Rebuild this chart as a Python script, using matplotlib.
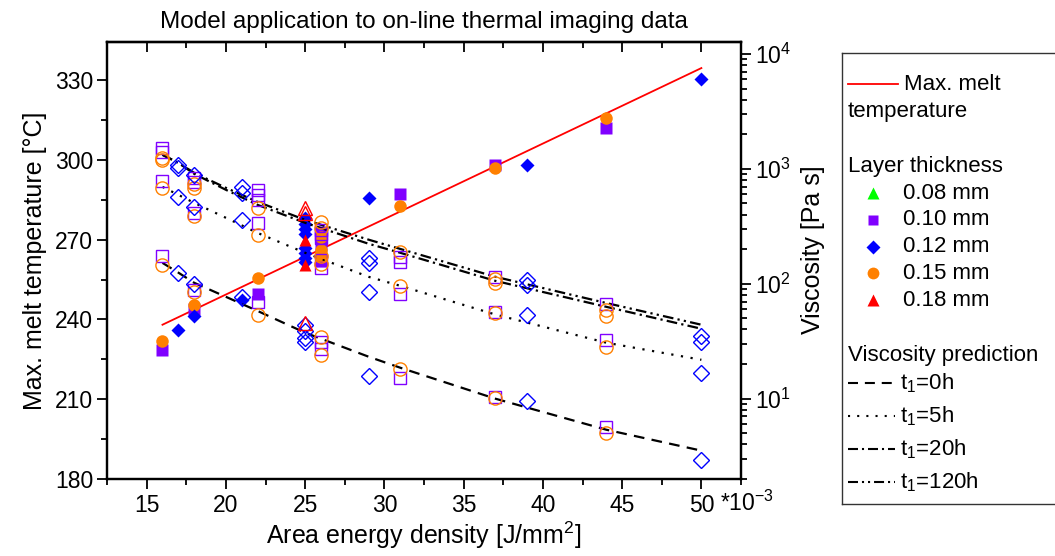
import matplotlib
matplotlib.use("Agg")
import matplotlib.pyplot as plt
import matplotlib.transforms as mtransforms
from matplotlib.ticker import MultipleLocator, LogLocator, NullFormatter

plt.rcParams['font.family'] = ['Liberation Sans', 'DejaVu Sans']
plt.rcParams['mathtext.fontset'] = 'custom'
plt.rcParams['mathtext.rm'] = 'Liberation Sans'
plt.rcParams['mathtext.it'] = 'Liberation Sans:italic'
plt.rcParams['mathtext.default'] = 'regular'

PURPLE = '#8000ff'
BLUE = '#0000ff'
ORANGE = '#ff8000'
RED = '#ff0000'
GREEN = '#00ff00'

# --- max. melt temperature (left axis, filled symbols) ---
fit_x = [16, 50]
fit_y = [238, 334.5]

temp_x_010 = [16, 18, 22, 26, 26, 26, 31, 37, 44]
temp_y_010 = [228.5, 244, 249.6, 273, 268, 262, 287, 298, 312]
temp_x_012 = [17, 18, 21, 25, 25, 25, 25, 25, 25, 25, 25, 29, 39, 50]
temp_y_012 = [236, 241.3, 247.3, 278, 276, 274, 272, 267, 265, 263, 261.5, 285.7, 298, 330.4]
temp_x_015 = [16, 18, 22, 26, 26, 26, 31, 37, 44]
temp_y_015 = [232, 245.4, 255.6, 271, 266, 264, 282.6, 297, 315.7]
temp_x_018 = [25, 25]
temp_y_018 = [270, 260.5]

# --- viscosity (right axis, open symbols) ---
visc_x_010 = [16, 16, 16, 16, 18, 18, 18, 18, 22, 22, 22, 22, 22,
              26, 26, 26, 26, 26, 26, 26, 31, 31, 31, 31, 37, 37, 37, 44, 44, 44]
visc_y_010 = [1524, 1405, 787, 175, 835, 771, 414, 89, 657, 594, 537, 339, 70,
              295, 272, 251, 162, 138, 31.3, 27.2, 172, 155, 82, 15.2, 115, 57, 10.4, 67, 32.6, 5.7]
visc_x_012 = [17, 17, 17, 17, 18, 18, 18, 21, 21, 21, 21, 25, 25, 25, 25,
              29, 29, 29, 29, 39, 39, 39, 39, 50, 50, 50, 50]
visc_y_012 = [1083, 1020, 571, 125, 887, 468, 100, 697, 618, 360, 77, 44, 39, 34, 31,
              168, 152, 84, 15.8, 108, 98, 54, 9.6, 35.3, 31.3, 16.8, 2.95]
visc_x_015 = [16, 16, 16, 16, 18, 18, 18, 18, 22, 22, 22, 26, 26, 26, 26, 26, 26,
              31, 31, 31, 37, 37, 37, 37, 44, 44, 44, 44]
visc_y_015 = [1247, 1197, 684, 146, 741, 684, 390, 85, 458, 267, 54, 346, 307, 175, 149, 34.6, 24.1,
              190, 96, 18.2, 110, 102, 56, 10.2, 59, 52, 28.3, 5.0]
visc_x_018 = [25, 25, 25]
visc_y_018 = [458, 414, 46]

# --- viscosity prediction curves ---
curve_x = [16, 17, 18, 20, 22, 25, 29, 31, 37, 44, 50]
pred_t0 = [152, 125, 102, 77, 58, 37.5, 23.2, 18.6, 10, 5.37, 3.53]
pred_t5 = [697, 594, 506, 375, 277, 186, 115, 96, 54, 30.7, 21.8]
pred_t20 = [1324, 1128, 905, 657, 486, 339, 223, 186, 106, 63, 40.6]
pred_t120 = [1324, 1128, 923, 684, 516, 360, 242, 201, 115, 68, 44]

TICK_FS = 16.5
LABEL_FS = 18
LEG_FS = 16

fig = plt.figure(figsize=(10.55, 5.56), dpi=100)
ax1 = fig.add_axes([107 / 1055, 1 - 479 / 556, (741 - 107) / 1055, (479 - 42) / 556])
ax2 = ax1.twinx()

# left axis
ax1.plot(fit_x, fit_y, color=RED, lw=1.3, zorder=3)
ax1.plot(temp_x_010, temp_y_010, 's', color=PURPLE, ms=8, mec='none', zorder=4)
ax1.plot(temp_x_015, temp_y_015, 'o', color=ORANGE, ms=9, mec='none', zorder=4)
ax1.plot(temp_x_012, temp_y_012, 'D', color=BLUE, ms=7.5, mec='none', zorder=4)
ax1.plot(temp_x_018, temp_y_018, '^', color=RED, ms=9, mec='none', zorder=4)

ax1.set_xlim(12.5, 52.5)
ax1.set_ylim(180, 344.3)
ax1.xaxis.set_major_locator(MultipleLocator(5))
ax1.xaxis.set_minor_locator(MultipleLocator(2.5))
ax1.yaxis.set_major_locator(MultipleLocator(30))
ax1.yaxis.set_minor_locator(MultipleLocator(15))
ax1.tick_params(axis='x', which='both', direction='out', bottom=True, top=False,
                labelsize=TICK_FS, pad=4)
ax1.tick_params(axis='y', which='both', direction='out', left=True, right=False,
                labelsize=TICK_FS, pad=3)
ax1.tick_params(which='major', length=7, width=1.3)
ax1.tick_params(which='minor', length=4, width=1.3)
for sp in ax1.spines.values():
    sp.set_linewidth(1.6)

# top inward ticks
axt = ax1.secondary_xaxis('top')
axt.xaxis.set_major_locator(MultipleLocator(5))
axt.xaxis.set_minor_locator(MultipleLocator(2.5))
axt.tick_params(which='both', direction='in', labeltop=False, width=1.3)
axt.tick_params(which='major', length=7)
axt.tick_params(which='minor', length=4)
axt.spines['top'].set_linewidth(1.6)

ax1.set_ylabel('Max. melt temperature [°C]', fontsize=LABEL_FS, labelpad=6)
ax1.set_xlabel('Area energy density [J/mm$^2$]', fontsize=LABEL_FS, labelpad=2)
ax1.set_title('Model application to on-line thermal imaging data', fontsize=17.5, pad=10)
trans = mtransforms.blended_transform_factory(ax1.transData, ax1.transAxes)
ax1.text(51.2, -0.027, '*10$^{-3}$', transform=trans, fontsize=TICK_FS,
         ha='left', va='top')

# right axis
ax2.set_yscale('log')
ax2.plot(curve_x, pred_t0, color='black', lw=1.6, ls=(0, (4.8, 3.3)), zorder=2)
ax2.plot(curve_x, pred_t5, color='black', lw=1.6, ls=(0, (1, 3.4)), zorder=2)
ax2.plot(curve_x, pred_t20, color='black', lw=1.6, ls=(0, (4.8, 1.9, 1, 1.9)), zorder=2)
ax2.plot(curve_x, pred_t120, color='black', lw=1.6, ls=(0, (4.8, 1.9, 1, 1.9, 1, 1.9)), zorder=2)

ax2.plot(visc_x_010, visc_y_010, 's', mfc='none', mec=PURPLE, ms=8.5, mew=1.0, zorder=3)
ax2.plot(visc_x_015, visc_y_015, 'o', mfc='none', mec=ORANGE, ms=9.5, mew=1.0, zorder=3)
ax2.plot(visc_x_012, visc_y_012, 'D', mfc='none', mec=BLUE, ms=8, mew=1.0, zorder=3)
ax2.plot(visc_x_018, visc_y_018, '^', mfc='none', mec=RED, ms=9.5, mew=1.0, zorder=3)

ax2.set_ylim(2.0, 12700)
ax2.yaxis.set_major_locator(LogLocator(base=10, numticks=10))
ax2.yaxis.set_minor_locator(LogLocator(base=10, subs=range(2, 10), numticks=10))
ax2.yaxis.set_minor_formatter(NullFormatter())
ax2.tick_params(axis='y', which='both', direction='out', labelsize=TICK_FS, pad=3)
ax2.tick_params(which='major', length=7, width=1.3)
ax2.tick_params(which='minor', length=4, width=1.3)
ax2.set_ylabel('Viscosity [Pa s]', fontsize=LABEL_FS)
ax2.yaxis.set_label_coords(1.095, 0.525)
for sp in ax2.spines.values():
    sp.set_linewidth(1.6)

# legend panel (pixel-like coordinates)
lg = fig.add_axes([842 / 1055, 1 - 504 / 556, 230 / 1055, (504 - 53) / 556])
lg.set_xlim(842, 1072)
lg.set_ylim(504, 53)
lg.set_xticks([])
lg.set_yticks([])
for sp in lg.spines.values():
    sp.set_linewidth(1.0)
    sp.set_color('#333333')

lg.plot([848, 898], [84, 84], color=RED, lw=1.3)
lg.text(904, 84, 'Max. melt', fontsize=LEG_FS, va='center')
lg.text(848, 111, 'temperature', fontsize=LEG_FS, va='center')
lg.text(848, 166, 'Layer thickness', fontsize=LEG_FS, va='center')
leg_items = [('^', GREEN, '0.08 mm', 9), ('s', PURPLE, '0.10 mm', 7.5),
             ('D', BLUE, '0.12 mm', 7.5), ('o', ORANGE, '0.15 mm', 8.5),
             ('^', RED, '0.18 mm', 9)]
for i, (m, c, lab, ms) in enumerate(leg_items):
    yy = 193 + i * 26.8
    lg.plot([873], [yy], m, color=c, ms=ms, mec='none')
    lg.text(903, yy, lab, fontsize=LEG_FS, va='center')
lg.text(848, 355, 'Viscosity prediction', fontsize=LEG_FS, va='center')
pred_items = [((0, (4.8, 3.3)), 't$_1$=0h'), ((0, (1, 3.4)), 't$_1$=5h'),
              ((0, (4.8, 1.9, 1, 1.9)), 't$_1$=20h'),
              ((0, (4.8, 1.9, 1, 1.9, 1, 1.9)), 't$_1$=120h')]
for i, (ls, lab) in enumerate(pred_items):
    yy = 383 + i * 33
    lg.plot([848, 895], [yy, yy], color='black', lw=1.5, ls=ls)
    lg.text(900, yy, lab, fontsize=LEG_FS, va='center')

fig.savefig('out.png', dpi=100)
